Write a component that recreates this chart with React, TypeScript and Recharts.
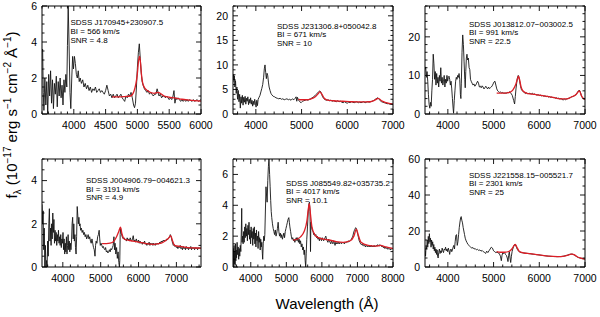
import React from "react";
import { LineChart, Line, XAxis, YAxis } from "recharts";

const FONT = '"Liberation Sans", Arial, Helvetica, sans-serif';
const BLACK = "#151515";
const RED = "#dc1e26";

type Pt = [number, number];

// ---------- Panel 1: SDSS J170945+230907.5 ----------
const spec1: Pt[] = [
  [3500, 3.5], [3510, 3.6], [3520, 1.2], [3530, 0.2], [3545, 2.0], [3560, 0.5], [3575, 1.8], [3590, 0.0],
  [3605, 2.2], [3620, 1.0], [3635, 2.4], [3650, 0.6], [3665, 1.9], [3680, 0.3], [3695, 1.7], [3710, 1.1],
  [3725, 2.1], [3740, 0.4], [3755, 1.8], [3770, 1.0], [3785, 2.0], [3800, 0.9], [3815, 1.6], [3830, 0.5],
  [3845, 1.9], [3860, 1.2], [3875, 2.2], [3890, 1.5], [3900, 3.8], [3912, 6.0], [3925, 4.0], [3940, 1.2],
  [3953, 0.3], [3968, 2.0], [3982, 3.2], [3995, 2.5], [4010, 3.2], [4025, 2.8], [4040, 2.2], [4055, 2.0],
  [4070, 2.4], [4085, 1.8], [4100, 2.0], [4120, 1.7], [4140, 1.9], [4160, 1.5], [4180, 1.7], [4200, 1.4],
  [4220, 1.6], [4240, 1.3], [4260, 1.5], [4280, 1.2], [4300, 1.4], [4320, 1.3], [4340, 1.5], [4360, 1.2],
  [4380, 1.3], [4400, 1.4], [4420, 1.2], [4440, 1.3], [4460, 1.2], [4480, 1.1], [4500, 1.3], [4520, 1.6],
  [4540, 1.3], [4560, 1.0], [4580, 1.1], [4600, 0.9], [4620, 1.1], [4640, 0.9], [4660, 1.0], [4680, 1.1],
  [4700, 0.9], [4720, 1.0], [4740, 1.1], [4760, 0.9], [4780, 0.8], [4800, 0.7], [4820, 1.0], [4840, 0.9],
  [4860, 1.1], [4880, 1.0], [4900, 1.2], [4920, 0.9], [4940, 0.5], [4955, 0.35], [4970, 0.6], [4985, 1.5],
  [5000, 2.6], [5015, 3.4], [5030, 3.9], [5045, 3.1], [5060, 2.3], [5075, 1.8], [5090, 1.6], [5110, 1.4],
  [5130, 1.3], [5150, 1.2], [5170, 1.3], [5190, 1.1], [5210, 1.2], [5230, 1.1], [5250, 1.0], [5270, 1.1],
  [5290, 1.1], [5310, 1.4], [5325, 1.2], [5340, 1.0], [5360, 1.1], [5380, 0.9], [5400, 1.0], [5420, 1.0],
  [5440, 0.9], [5460, 1.0], [5480, 0.9], [5500, 0.8], [5520, 0.9], [5540, 0.8], [5560, 1.0], [5575, 1.3],
  [5590, 0.6], [5605, 0.9], [5620, 0.8], [5640, 0.9], [5660, 0.8], [5680, 0.7], [5700, 0.8], [5720, 0.7],
  [5740, 0.8], [5760, 0.7], [5780, 0.8], [5800, 0.7], [5820, 0.8], [5840, 0.75], [5860, 0.7], [5880, 0.8],
  [5900, 0.7], [5920, 0.75], [5940, 0.8], [5960, 0.7], [5980, 0.75], [6000, 0.8],
];
const model1: Pt[] = [
  [4602, 0.95], [4700, 0.95], [4800, 0.97], [4892, 1.0], [4945, 1.25], [4998, 2.2], [5020, 3.0],
  [5035, 3.2], [5050, 2.8], [5061, 2.3], [5093, 1.6], [5156, 1.3], [5261, 1.15], [5324, 1.2],
  [5420, 1.0], [5500, 0.93], [5578, 0.9], [5700, 0.82], [5789, 0.78], [5900, 0.74], [6000, 0.72],
];

// ---------- Panel 2: SDSS J231306.8+050042.8 ----------
const spec2: Pt[] = [
  [3500, 6.5], [3510, 8.0], [3520, 7.0], [3530, 7.8], [3540, 5.5], [3555, 6.8], [3570, 4.2], [3585, 5.5],
  [3600, 3.0], [3615, 4.8], [3630, 2.5], [3645, 4.0], [3660, 1.2], [3675, 3.5], [3690, 2.2], [3705, 3.8],
  [3720, 1.8], [3735, 3.4], [3750, 2.4], [3765, 3.6], [3780, 2.0], [3795, 3.2], [3810, 2.6], [3825, 3.5],
  [3840, 1.9], [3855, 3.0], [3870, 2.2], [3885, 3.3], [3900, 2.0], [3915, 2.8], [3930, 1.6], [3945, 2.6],
  [3960, 1.9], [3975, 3.0], [3990, 2.2], [4005, 1.4], [4020, 2.8], [4035, 1.7], [4050, 3.0], [4070, 3.4],
  [4090, 3.8], [4110, 4.5], [4130, 5.2], [4150, 6.0], [4170, 7.5], [4185, 9.2], [4200, 10.0], [4215, 8.5],
  [4230, 7.2], [4245, 8.3], [4260, 7.8], [4275, 6.5], [4290, 5.5], [4310, 4.8], [4330, 4.2], [4350, 3.9],
  [4380, 3.6], [4410, 3.5], [4440, 3.3], [4470, 3.2], [4500, 3.1], [4530, 3.2], [4560, 3.0], [4590, 3.1],
  [4620, 2.9], [4650, 3.0], [4680, 3.1], [4710, 2.9], [4740, 3.0], [4770, 2.8], [4800, 3.1], [4830, 2.9],
  [4860, 3.2], [4880, 3.5], [4895, 2.6], [4910, 3.4], [4930, 2.9], [4960, 2.5], [4990, 2.3], [5020, 2.6],
  [5050, 2.7], [5080, 2.8], [5110, 2.9], [5140, 2.8], [5170, 3.0], [5200, 3.1], [5230, 3.3], [5260, 3.5],
  [5290, 3.7], [5320, 4.0], [5350, 4.3], [5380, 4.6], [5400, 4.7], [5420, 4.5], [5440, 4.0], [5460, 3.5],
  [5490, 3.1], [5520, 2.9], [5550, 2.8], [5580, 2.9], [5610, 2.7], [5640, 2.8], [5670, 2.6], [5700, 2.7],
  [5730, 2.6], [5760, 2.5], [5790, 2.7], [5820, 2.5], [5850, 2.6], [5880, 2.4], [5910, 2.3], [5940, 2.5],
  [5970, 2.3], [6000, 2.2], [6030, 2.4], [6060, 2.3], [6090, 2.5], [6120, 2.4], [6150, 2.3], [6180, 2.4],
  [6210, 2.5], [6240, 2.3], [6270, 2.4], [6300, 2.3], [6330, 2.4], [6360, 2.5], [6390, 2.3], [6420, 2.4],
  [6450, 2.5], [6480, 2.4], [6510, 2.5], [6540, 2.6], [6570, 2.7], [6600, 2.9], [6630, 3.1], [6660, 3.3],
  [6690, 3.1], [6720, 2.7], [6750, 2.5], [6780, 2.4], [6810, 2.3], [6840, 2.2], [6870, 2.1], [6900, 2.1],
  [6930, 2.0], [6960, 2.0], [7000, 1.9],
];
const model2: Pt[] = [
  [4930, 3.0], [5000, 2.9], [5100, 2.9], [5200, 3.05], [5300, 3.5], [5360, 4.1], [5400, 4.5], [5440, 4.1],
  [5490, 3.3], [5550, 2.9], [5700, 2.7], [5900, 2.6], [6100, 2.5], [6300, 2.45], [6500, 2.5], [6600, 2.8],
  [6680, 3.2], [6750, 2.7], [6850, 2.3], [7000, 2.0],
];

// ---------- Panel 3: SDSS J013812.07-003002.5 ----------
const spec3: Pt[] = [
  [3500, 11.5], [3515, 12.2], [3530, 9.5], [3545, 11.0], [3560, 8.5], [3575, 5.0], [3590, 2.5], [3605, 1.5],
  [3620, 3.0], [3635, 2.0], [3650, 6.0], [3665, 9.0], [3680, 15.5], [3695, 13.0], [3710, 9.0], [3725, 11.0],
  [3740, 7.5], [3755, 10.5], [3770, 8.0], [3785, 9.5], [3800, 7.0], [3815, 10.0], [3830, 8.5], [3845, 12.0],
  [3860, 8.0], [3875, 9.5], [3890, 7.5], [3905, 8.5], [3920, 10.0], [3935, 7.0], [3950, 9.0], [3965, 8.0],
  [3980, 10.0], [3995, 8.5], [4010, 9.5], [4025, 9.8], [4040, 9.0], [4055, 7.5], [4070, 8.5], [4085, 6.5],
  [4100, 4.0], [4115, 1.5], [4125, 0.2], [4140, 3.5], [4155, 6.0], [4170, 8.5], [4185, 9.5], [4200, 9.0],
  [4215, 10.0], [4230, 9.5], [4245, 10.5], [4260, 9.0], [4275, 5.0], [4285, 4.0], [4295, 8.0], [4310, 16.0],
  [4325, 20.5], [4340, 18.0], [4355, 13.5], [4370, 9.0], [4380, 6.8], [4392, 11.0], [4405, 14.5], [4418, 15.5],
  [4432, 14.0], [4448, 14.5], [4465, 12.0], [4480, 11.5], [4495, 9.0], [4510, 8.5], [4530, 8.0], [4550, 7.5],
  [4570, 7.8], [4590, 7.2], [4610, 7.5], [4630, 8.0], [4650, 8.5], [4670, 8.0], [4690, 7.0], [4710, 7.2],
  [4730, 6.8], [4750, 7.3], [4770, 7.0], [4790, 6.5], [4810, 6.8], [4830, 7.2], [4850, 6.8], [4870, 6.5],
  [4890, 7.0], [4910, 6.6], [4930, 6.8], [4950, 7.0], [4970, 7.3], [4990, 7.8], [5010, 8.3], [5030, 8.5],
  [5050, 7.5], [5070, 6.5], [5090, 6.0], [5110, 5.8], [5130, 5.6], [5150, 5.7], [5170, 5.5], [5190, 5.6],
  [5210, 5.4], [5230, 5.5], [5250, 5.3], [5270, 5.5], [5290, 5.4], [5310, 5.6], [5330, 5.5], [5350, 5.8],
  [5370, 5.5], [5390, 5.2], [5410, 4.8], [5440, 3.5], [5460, 2.6], [5475, 4.5], [5490, 6.5], [5505, 8.0],
  [5520, 9.3], [5540, 10.0], [5555, 9.5], [5570, 8.5], [5590, 7.2], [5610, 6.3], [5630, 6.0], [5650, 5.8],
  [5675, 5.5], [5700, 5.3], [5725, 5.5], [5750, 5.2], [5775, 5.4], [5800, 5.3], [5825, 5.2], [5850, 5.4],
  [5875, 5.1], [5900, 5.2], [5925, 5.0], [5950, 4.9], [5975, 5.0], [6000, 4.8], [6025, 4.9], [6050, 4.7],
  [6075, 4.8], [6100, 4.6], [6125, 4.7], [6150, 4.5], [6175, 4.6], [6200, 4.4], [6225, 4.5], [6250, 4.3],
  [6275, 4.4], [6300, 4.2], [6325, 4.3], [6350, 4.1], [6375, 4.2], [6400, 4.0], [6425, 4.1], [6450, 3.9],
  [6475, 4.0], [6500, 3.8], [6525, 3.6], [6550, 3.9], [6575, 3.7], [6600, 3.9], [6625, 4.0], [6650, 4.1],
  [6675, 4.2], [6700, 4.4], [6725, 4.5], [6750, 4.6], [6775, 4.8], [6800, 5.0], [6825, 5.4], [6850, 5.9],
  [6875, 6.2], [6900, 5.6], [6925, 4.6], [6950, 4.1], [6975, 3.9], [7000, 3.8],
];
const model3: Pt[] = [
  [5068, 5.4], [5150, 5.4], [5250, 5.4], [5350, 5.6], [5420, 6.2], [5480, 7.5], [5520, 9.0], [5545, 9.8],
  [5570, 8.9], [5600, 7.1], [5650, 5.9], [5750, 5.3], [5900, 5.1], [6100, 4.7], [6300, 4.3], [6500, 3.9],
  [6600, 3.9], [6700, 4.4], [6800, 5.0], [6880, 6.0], [6920, 4.8], [6960, 4.1], [7000, 3.8],
];

// ---------- Panel 4: SDSS J004906.79-004621.3 ----------
const spec4: Pt[] = [
  [3450, 2.9], [3465, 2.0], [3480, 2.6], [3495, 0.8], [3510, 1.8], [3525, 0.0], [3540, 1.0], [3555, 0.0],
  [3570, 0.3], [3585, 0.0], [3600, 1.2], [3615, 0.5], [3630, 2.0], [3645, 2.7], [3660, 1.2], [3675, 1.8],
  [3690, 1.0], [3705, 2.0], [3720, 1.3], [3735, 2.5], [3750, 1.6], [3765, 2.2], [3780, 1.1], [3795, 1.7],
  [3810, 1.2], [3825, 1.6], [3840, 1.0], [3855, 1.5], [3870, 1.2], [3885, 1.7], [3900, 1.1], [3915, 1.4],
  [3930, 1.0], [3945, 1.5], [3960, 0.9], [3975, 1.3], [3990, 1.1], [4005, 1.6], [4020, 0.8], [4035, 1.3],
  [4050, 0.6], [4065, 1.1], [4080, 0.7], [4095, 1.4], [4110, 0.6], [4125, 1.0], [4140, 1.5], [4155, 0.8],
  [4170, 1.2], [4185, 0.7], [4200, 1.1], [4215, 0.8], [4230, 1.2], [4245, 2.0], [4260, 2.3], [4275, 1.3],
  [4290, 2.0], [4305, 1.2], [4320, 1.5], [4335, 0.9], [4350, 0.6], [4365, 1.4], [4380, 2.8], [4395, 2.4],
  [4410, 2.0], [4425, 2.3], [4440, 1.9], [4455, 2.0], [4470, 1.7], [4490, 1.8], [4510, 1.6], [4530, 1.7],
  [4550, 1.5], [4570, 1.6], [4590, 1.4], [4610, 1.5], [4630, 1.3], [4650, 1.4], [4670, 1.5], [4690, 1.3],
  [4710, 1.4], [4730, 1.2], [4750, 1.1], [4770, 1.3], [4790, 1.1], [4810, 0.9], [4830, 0.8], [4850, 0.5],
  [4865, 1.0], [4880, 1.2], [4900, 1.1], [4920, 1.4], [4940, 1.5], [4960, 1.7], [4975, 1.3], [4990, 1.0],
  [5010, 1.1], [5030, 1.0], [5050, 0.9], [5070, 0.95], [5090, 0.85], [5110, 0.8], [5130, 0.9], [5150, 0.7],
  [5170, 0.75], [5190, 0.65], [5210, 0.7], [5230, 0.8], [5250, 0.7], [5270, 0.85], [5290, 0.8], [5310, 0.9],
  [5330, 1.0], [5350, 1.4], [5365, 0.8], [5380, 1.1], [5400, 0.6], [5420, 0.9], [5440, 0.4], [5460, 0.7],
  [5480, 0.2], [5495, 0.0], [5505, 0.3], [5515, 1.5], [5525, 1.8], [5540, 1.6], [5560, 1.45], [5580, 1.35],
  [5600, 1.3], [5620, 1.35], [5640, 1.25], [5660, 1.3], [5680, 1.2], [5700, 1.35], [5720, 1.25], [5740, 1.3],
  [5760, 1.2], [5780, 1.35], [5800, 1.25], [5820, 1.2], [5840, 1.3], [5860, 1.45], [5880, 1.2], [5900, 1.25],
  [5920, 1.15], [5940, 1.3], [5960, 1.2], [5980, 1.15], [6000, 1.25], [6020, 1.1], [6040, 1.2], [6060, 1.1],
  [6080, 1.15], [6100, 1.05], [6120, 1.15], [6140, 1.1], [6160, 1.2], [6180, 1.05], [6200, 1.1], [6220, 1.0],
  [6240, 1.1], [6260, 1.05], [6280, 1.15], [6300, 1.0], [6320, 1.1], [6340, 1.05], [6360, 1.1], [6380, 1.0],
  [6400, 1.1], [6420, 1.05], [6440, 1.0], [6460, 1.1], [6480, 1.05], [6500, 1.1], [6520, 1.05], [6540, 1.1],
  [6560, 1.15], [6580, 1.1], [6600, 1.2], [6620, 1.15], [6640, 1.2], [6660, 1.25], [6680, 1.2], [6700, 1.25],
  [6720, 1.2], [6740, 1.3], [6760, 1.25], [6780, 1.3], [6800, 1.35], [6820, 1.4], [6840, 1.5], [6860, 1.4],
  [6880, 1.25], [6900, 1.1], [6920, 1.0], [6940, 1.05], [6960, 0.95], [6980, 1.0], [7000, 0.9], [7020, 0.95],
  [7040, 0.85], [7060, 0.95], [7080, 0.9], [7100, 1.0], [7120, 0.85], [7140, 0.9], [7160, 0.8], [7180, 0.95],
  [7200, 0.85], [7220, 0.9], [7240, 0.8], [7260, 0.95], [7280, 0.85], [7300, 0.9], [7320, 0.8], [7340, 0.9],
  [7360, 0.85], [7380, 0.95], [7400, 0.8], [7420, 0.9], [7440, 0.85], [7460, 0.9], [7480, 0.8], [7500, 0.9],
  [7520, 0.85], [7540, 0.9], [7560, 0.8], [7580, 0.9], [7600, 0.85], [7620, 0.9], [7640, 0.85],
];
const model4: Pt[] = [
  [5036, 1.08], [5150, 1.08], [5250, 1.1], [5350, 1.2], [5420, 1.4], [5480, 1.65], [5523, 1.85], [5560, 1.55],
  [5620, 1.3], [5700, 1.25], [5850, 1.2], [6000, 1.15], [6200, 1.08], [6400, 1.05], [6600, 1.1], [6700, 1.2],
  [6800, 1.35], [6850, 1.45], [6900, 1.2], [6950, 1.0], [7100, 0.95], [7300, 0.9], [7500, 0.88], [7650, 0.87],
];

// ---------- Panel 5: SDSS J085549.82+035735.2 ----------
const spec5: Pt[] = [
  [3500, 0.3], [3510, 1.2], [3520, 0.0], [3530, 1.4], [3540, 0.2], [3550, 1.0], [3560, 0.1], [3570, 1.5],
  [3580, 0.4], [3590, 1.1], [3600, 0.6], [3615, 1.6], [3630, 0.8], [3645, 1.3], [3660, 0.5], [3675, 1.2],
  [3690, 0.7], [3705, 1.4], [3720, 1.0], [3735, 2.4], [3745, 3.8], [3755, 1.6], [3770, 2.0], [3785, 1.5],
  [3800, 2.3], [3815, 1.6], [3830, 2.6], [3845, 1.9], [3860, 2.8], [3875, 2.0], [3890, 2.5], [3905, 1.7],
  [3920, 2.7], [3935, 2.1], [3950, 2.9], [3965, 1.8], [3980, 2.4], [3995, 1.5], [4010, 2.6], [4025, 1.9],
  [4040, 2.3], [4055, 1.4], [4070, 2.5], [4085, 1.8], [4100, 2.6], [4115, 1.5], [4130, 2.2], [4145, 1.3],
  [4160, 2.4], [4175, 1.7], [4190, 2.0], [4205, 1.2], [4220, 2.3], [4235, 1.6], [4250, 1.9], [4265, 1.1],
  [4280, 1.8], [4295, 1.3], [4310, 1.6], [4325, 0.9], [4335, 0.5], [4350, 1.5], [4365, 2.0], [4380, 1.7],
  [4395, 2.1], [4410, 3.5], [4428, 5.2], [4445, 4.6], [4460, 4.2], [4478, 5.6], [4495, 6.5], [4512, 7.0],
  [4530, 6.0], [4545, 5.2], [4560, 4.3], [4575, 3.6], [4590, 3.2], [4610, 2.8], [4630, 2.5], [4650, 2.3],
  [4670, 2.1], [4690, 2.4], [4710, 2.0], [4730, 2.2], [4750, 2.5], [4770, 2.9], [4790, 2.3], [4810, 2.0],
  [4830, 2.2], [4850, 1.9], [4870, 2.1], [4890, 1.8], [4910, 2.0], [4930, 2.2], [4950, 1.9], [4970, 2.3],
  [4990, 2.5], [5010, 2.7], [5030, 2.9], [5050, 3.1], [5070, 3.2], [5085, 2.9], [5100, 2.6], [5120, 2.3],
  [5140, 2.0], [5160, 1.8], [5180, 1.9], [5200, 1.7], [5220, 1.8], [5240, 1.6], [5260, 1.8], [5280, 1.9],
  [5300, 1.7], [5320, 1.9], [5340, 1.6], [5360, 1.8], [5380, 1.5], [5400, 1.7], [5420, 1.3], [5440, 1.5],
  [5460, 1.1], [5480, 1.3], [5500, 0.8], [5515, 1.1], [5530, 0.4], [5545, 0.0], [5560, 0.9], [5575, 1.8],
  [5595, 2.6], [5615, 3.5], [5635, 4.1], [5650, 4.2], [5665, 3.6], [5680, 1.0], [5690, 2.9], [5710, 2.6],
  [5730, 2.4], [5750, 2.3], [5770, 2.1], [5790, 2.2], [5810, 2.0], [5830, 2.1], [5850, 1.9], [5870, 2.0],
  [5890, 1.8], [5910, 1.9], [5930, 1.7], [5950, 1.9], [5970, 1.8], [5990, 1.7], [6010, 1.9], [6030, 1.8],
  [6050, 1.7], [6070, 1.8], [6090, 1.9], [6110, 2.0], [6130, 1.8], [6150, 1.7], [6170, 1.6], [6190, 1.8],
  [6210, 1.7], [6230, 1.6], [6250, 1.5], [6270, 1.7], [6290, 1.6], [6310, 1.5], [6330, 1.7], [6350, 1.6],
  [6370, 1.4], [6390, 1.6], [6410, 1.5], [6430, 1.6], [6450, 1.5], [6470, 1.6], [6490, 1.5], [6510, 1.6],
  [6530, 1.55], [6550, 1.5], [6570, 1.6], [6590, 1.55], [6610, 1.6], [6630, 1.5], [6650, 1.6], [6670, 1.55],
  [6690, 1.6], [6710, 1.65], [6730, 1.6], [6750, 1.7], [6770, 1.65], [6790, 1.7], [6810, 1.75], [6830, 1.8],
  [6850, 1.9], [6870, 2.0], [6890, 2.2], [6910, 2.35], [6930, 2.45], [6950, 2.55], [6970, 2.5], [6990, 2.3],
  [7010, 2.1], [7030, 1.9], [7050, 1.7], [7070, 1.6], [7090, 1.5], [7110, 1.45], [7130, 1.5], [7150, 1.4],
  [7170, 1.45], [7190, 1.35], [7210, 1.4], [7230, 1.3], [7250, 1.4], [7270, 1.35], [7290, 1.3], [7310, 1.4],
  [7330, 1.3], [7350, 1.35], [7370, 1.3], [7390, 1.4], [7410, 1.3], [7430, 1.35], [7450, 1.3], [7470, 1.4],
  [7490, 1.3], [7510, 1.35], [7530, 1.4], [7550, 1.35], [7570, 1.45], [7590, 1.4], [7610, 1.35], [7630, 1.45],
  [7650, 1.4], [7670, 1.35], [7690, 1.3], [7710, 1.35], [7730, 1.25], [7750, 1.3], [7770, 1.2], [7790, 1.3],
  [7810, 1.2], [7830, 1.25], [7850, 1.15], [7870, 1.2], [7890, 1.15], [7910, 1.2], [7930, 1.1], [7950, 1.2],
  [7970, 1.15], [7990, 1.2],
];
const model5: Pt[] = [
  [5197, 1.75], [5300, 1.8], [5400, 1.95], [5500, 2.3], [5580, 3.0], [5620, 3.8], [5647, 4.1], [5680, 3.4],
  [5720, 2.6], [5800, 2.1], [5900, 1.9], [6050, 1.8], [6200, 1.75], [6400, 1.65], [6600, 1.6], [6800, 1.7],
  [6900, 2.0], [6970, 2.45], [7020, 2.1], [7100, 1.6], [7300, 1.4], [7500, 1.35], [7650, 1.4], [7800, 1.3],
  [8000, 1.2],
];

// ---------- Panel 6: SDSS J221558.15-005521.7 ----------
const spec6: Pt[] = [
  [3500, 9], [3512, 6], [3524, 12], [3536, 10], [3548, 15], [3560, 11], [3572, 17], [3584, 13], [3596, 18.5],
  [3608, 14], [3620, 16], [3632, 11], [3644, 15], [3656, 12], [3668, 14], [3680, 10], [3692, 12.5], [3704, 9],
  [3716, 11], [3728, 8], [3740, 10], [3752, 7], [3764, 9.5], [3776, 6], [3788, 5], [3800, 8], [3815, 10],
  [3830, 7.5], [3845, 9], [3860, 8], [3875, 10.5], [3890, 9], [3905, 8], [3920, 10], [3935, 9.5], [3950, 11],
  [3965, 9], [3980, 10], [3995, 8.5], [4010, 10.5], [4025, 9], [4040, 7], [4055, 9.5], [4070, 10], [4085, 8.5],
  [4100, 9.5], [4115, 11], [4130, 12], [4145, 10], [4160, 14], [4175, 17.5], [4190, 18], [4205, 12], [4220, 14],
  [4235, 18], [4250, 22], [4265, 25], [4280, 27.5], [4292, 28], [4305, 26], [4320, 24.5], [4335, 22], [4350, 20],
  [4365, 18], [4380, 16], [4400, 14.5], [4420, 13.5], [4440, 12.5], [4460, 12], [4480, 11.5], [4500, 11],
  [4525, 10.5], [4550, 10.8], [4575, 10], [4600, 10.2], [4625, 9.5], [4650, 9.8], [4675, 9.2], [4700, 9.5],
  [4725, 8.8], [4750, 9.2], [4775, 8.5], [4800, 8.2], [4825, 7.5], [4850, 8.8], [4875, 8.0], [4900, 9.0],
  [4925, 10.0], [4950, 11.0], [4975, 10.5], [5000, 9.0], [5025, 8.5], [5050, 8.0], [5075, 8.3], [5100, 7.8],
  [5125, 7.5], [5150, 6.0], [5170, 3.5], [5185, 6.5], [5200, 7.8], [5220, 7.5], [5240, 8.0], [5260, 7.0],
  [5280, 6.5], [5300, 5.0], [5315, 3.0], [5330, 6.5], [5345, 8.5], [5360, 5.0], [5375, 2.5], [5390, 6.0],
  [5405, 8.5], [5420, 10.0], [5440, 11.5], [5460, 12.5], [5480, 12.3], [5500, 11.0], [5520, 9.8], [5540, 9.0],
  [5560, 8.5], [5580, 8.3], [5600, 8.0], [5630, 7.9], [5660, 7.8], [5690, 7.7], [5720, 7.6], [5750, 7.5],
  [5780, 7.4], [5810, 7.3], [5840, 7.2], [5870, 7.1], [5900, 7.0], [5930, 6.9], [5960, 6.8], [5990, 6.7],
  [6020, 6.6], [6050, 6.5], [6080, 6.4], [6110, 6.3], [6140, 6.2], [6170, 6.1], [6200, 6.0], [6230, 5.95],
  [6260, 5.9], [6290, 5.85], [6320, 5.8], [6350, 5.8], [6380, 5.75], [6410, 5.75], [6440, 5.8], [6470, 5.8],
  [6500, 5.9], [6530, 6.0], [6560, 6.2], [6590, 6.4], [6620, 6.6], [6650, 6.9], [6680, 7.1], [6710, 7.2],
  [6740, 7.0], [6770, 6.6], [6800, 6.1], [6830, 5.6], [6860, 5.2], [6890, 5.0], [6920, 4.8], [6950, 4.6],
  [6980, 4.5], [7000, 4.4],
];
const model6: Pt[] = [
  [5068, 8.5], [5150, 8.2], [5250, 8.2], [5330, 8.6], [5400, 10.0], [5450, 12.0], [5475, 12.6], [5510, 11.0],
  [5560, 8.8], [5650, 7.9], [5800, 7.4], [6000, 6.7], [6200, 6.0], [6400, 5.75], [6550, 6.1], [6650, 6.8],
  [6720, 7.2], [6780, 6.6], [6850, 5.4], [6950, 4.7], [7000, 4.4],
];

// ---------- labels, ranges, ticks ----------
const objectNames = [
  "SDSS J170945+230907.5",
  "SDSS J231306.8+050042.8",
  "SDSS J013812.07\u2212003002.5",
  "SDSS J004906.79\u2212004621.3",
  "SDSS J085549.82+035735.2",
  "SDSS J221558.15\u2212005521.7",
];
const biValues = ["566", "671", "991", "3191", "4017", "2301"];
const snrValues = ["4.8", "10", "22.5", "4.9", "10.1", "25"];

const xDomains: [number, number][] = [
  [3500, 6000], [3500, 7000], [3500, 7000], [3450, 7650], [3500, 8000], [3500, 7000],
];
const yDomains: [number, number][] = [[0, 6], [0, 22], [0, 28], [0, 5], [0, 7], [0, 60]];
const xMajorTicks: number[][] = [
  [4000, 4500, 5000, 5500, 6000],
  [4000, 5000, 6000, 7000],
  [4000, 5000, 6000, 7000],
  [4000, 5000, 6000, 7000],
  [4000, 5000, 6000, 7000, 8000],
  [4000, 5000, 6000, 7000],
];
const xMinorSteps = [100, 200, 200, 200, 200, 200];
const yMajorTicks: number[][] = [[0, 2, 4, 6], [0, 5, 10, 15, 20], [0, 10, 20], [0, 2, 4], [0, 2, 4, 6], [0, 20, 40, 60]];
const yMinorSteps = [0.5, 1, 2, 0.5, 0.5, 5];

const specs = [spec1, spec2, spec3, spec4, spec5, spec6];
const models = [model1, model2, model3, model4, model5, model6];

// ---------- layout (styling) ----------
const plots = [
  { left: 42, top: 6, w: 159, h: 108 },
  { left: 233, top: 6, w: 160, h: 108 },
  { left: 425, top: 6, w: 160, h: 108 },
  { left: 42, top: 159, w: 159, h: 108 },
  { left: 233, top: 159, w: 160, h: 108 },
  { left: 425, top: 159, w: 160, h: 108 },
];
const notePos = [
  { x: 70.5, y: 22.3 },
  { x: 277, y: 25.6 },
  { x: 469, y: 23.6 },
  { x: 86, y: 180.0 },
  { x: 286, y: 182.6 },
  { x: 469, y: 174.6 },
];
const NOTE_FS = 8;
const NOTE_DY = 8.6;

const MAJ = 5;
const MIN = 2.5;
const TICK_FS = 10.5;

function buildTicks(domain: [number, number], majors: number[], step: number): number[] {
  const out: number[] = [];
  const start = Math.ceil(domain[0] / step - 1e-9) * step;
  for (let v = start; v <= domain[1] + 1e-9; v += step) out.push(Math.round(v * 1000) / 1000);
  majors.forEach((m) => {
    if (!out.some((o) => Math.abs(o - m) < 1e-6)) out.push(m);
  });
  return out.sort((a, b) => a - b);
}
const isMajor = (v: number, majors: number[]) => majors.some((m) => Math.abs(m - v) < 1e-6);

const BottomTick = (props: any) => {
  const { x, y, payload, majors } = props;
  const v = payload.value;
  const major = isMajor(v, majors);
  return (
    <g>
      <line x1={x} y1={y} x2={x} y2={y - (major ? MAJ : MIN)} stroke="#000" strokeWidth={0.9} />
      {major ? (
        <text x={x} y={y + 14.5} textAnchor="middle" fontSize={TICK_FS} fontFamily={FONT} fill="#000">
          {v}
        </text>
      ) : null}
    </g>
  );
};
const TopTick = (props: any) => {
  const { x, y, payload, majors } = props;
  const major = isMajor(payload.value, majors);
  return <line x1={x} y1={y} x2={x} y2={y + (major ? MAJ : MIN)} stroke="#000" strokeWidth={0.9} />;
};
const LeftTick = (props: any) => {
  const { x, y, payload, majors } = props;
  const v = payload.value;
  const major = isMajor(v, majors);
  return (
    <g>
      <line x1={x} y1={y} x2={x + (major ? MAJ : MIN)} y2={y} stroke="#000" strokeWidth={0.9} />
      {major ? (
        <text x={x - 5} y={y + 3.8} textAnchor="end" fontSize={TICK_FS} fontFamily={FONT} fill="#000">
          {v}
        </text>
      ) : null}
    </g>
  );
};
const RightTick = (props: any) => {
  const { x, y, payload, majors } = props;
  const major = isMajor(payload.value, majors);
  return <line x1={x} y1={y} x2={x - (major ? MAJ : MIN)} y2={y} stroke="#000" strokeWidth={0.9} />;
};

const axisLineStyle = { stroke: "#000", strokeWidth: 1 };

// outer space around each plot area, and the size given to each axis
const ML = 32;
const MR = 14;
const MT = 8;
const MB = 22;
const LEFT_W = 30;
const RIGHT_W = 2;
const TOP_H = 2;
const BOTTOM_H = 20;

function Panel({ i }: { i: number }) {
  const p = plots[i];
  const xTicks = buildTicks(xDomains[i], xMajorTicks[i], xMinorSteps[i]);
  const yTicks = buildTicks(yDomains[i], yMajorTicks[i], yMinorSteps[i]);
  const black = specs[i].map(([w, f]) => ({ w, f }));
  const red = models[i].map(([w, f]) => ({ w, f }));
  return (
    <div style={{ position: "absolute", left: p.left - ML, top: p.top - MT }}>
      <LineChart
        width={p.w + ML + MR}
        height={p.h + MT + MB}
        margin={{ top: MT - TOP_H, right: MR - RIGHT_W, bottom: MB - BOTTOM_H, left: ML - LEFT_W }}
      >
        <XAxis
          xAxisId="b"
          orientation="bottom"
          type="number"
          dataKey="w"
          domain={xDomains[i]}
          allowDataOverflow
          ticks={xTicks}
          interval={0}
          height={BOTTOM_H}
          tickSize={0}
          tickMargin={0}
          tickLine={false}
          axisLine={axisLineStyle}
          tick={<BottomTick majors={xMajorTicks[i]} />}
        />
        <XAxis
          xAxisId="t"
          orientation="top"
          type="number"
          dataKey="w"
          domain={xDomains[i]}
          allowDataOverflow
          ticks={xTicks}
          interval={0}
          height={TOP_H}
          tickSize={0}
          tickMargin={0}
          tickLine={false}
          axisLine={axisLineStyle}
          tick={<TopTick majors={xMajorTicks[i]} />}
        />
        <YAxis
          yAxisId="l"
          orientation="left"
          type="number"
          domain={yDomains[i]}
          allowDataOverflow
          ticks={yTicks}
          interval={0}
          width={LEFT_W}
          tickSize={0}
          tickMargin={0}
          tickLine={false}
          axisLine={axisLineStyle}
          tick={<LeftTick majors={yMajorTicks[i]} />}
        />
        <YAxis
          yAxisId="r"
          orientation="right"
          type="number"
          domain={yDomains[i]}
          allowDataOverflow
          ticks={yTicks}
          interval={0}
          width={RIGHT_W}
          tickSize={0}
          tickMargin={0}
          tickLine={false}
          axisLine={axisLineStyle}
          tick={<RightTick majors={yMajorTicks[i]} />}
        />
        <Line
          xAxisId="b"
          yAxisId="l"
          data={black}
          dataKey="f"
          type="linear"
          stroke={BLACK}
          strokeWidth={0.9}
          dot={false}
          activeDot={false}
          isAnimationActive={false}
        />
        <Line
          xAxisId="b"
          yAxisId="l"
          data={red}
          dataKey="f"
          type="monotone"
          stroke={RED}
          strokeWidth={1.3}
          dot={false}
          activeDot={false}
          isAnimationActive={false}
        />
      </LineChart>
    </div>
  );
}

export default function App() {
  const supFs = 10;
  return (
    <div style={{ position: "absolute", left: 0, top: 0, width: 600, height: 317, background: "#fff", overflow: "hidden" }}>
      {plots.map((_, i) => (
        <Panel key={i} i={i} />
      ))}
      <svg width={600} height={317} style={{ position: "absolute", left: 0, top: 0, pointerEvents: "none" }}>
        {notePos.map((n, i) => (
          <g key={i} fontFamily={FONT} fontSize={NOTE_FS} fill="#000">
            <text x={n.x} y={n.y + 3}>{objectNames[i]}</text>
            <text x={n.x} y={n.y + 3 + NOTE_DY}>{`BI = ${biValues[i]} km/s`}</text>
            <text x={n.x} y={n.y + 3 + 2 * NOTE_DY}>{`SNR = ${snrValues[i]}`}</text>
          </g>
        ))}
        <text
          x={17}
          y={115}
          transform="rotate(-90 17 115)"
          textAnchor="middle"
          fontFamily={FONT}
          fontSize={15}
          fill="#000"
        >
          f
          <tspan dy={4} fontSize={supFs}>λ</tspan>
          <tspan dy={-4}>{" (10"}</tspan>
          <tspan dy={-6} fontSize={supFs}>{"\u221217"}</tspan>
          <tspan dy={6}>{" erg s"}</tspan>
          <tspan dy={-6} fontSize={supFs}>{"\u22121"}</tspan>
          <tspan dy={6}>{" cm"}</tspan>
          <tspan dy={-6} fontSize={supFs}>{"\u22122"}</tspan>
          <tspan dy={6}>{" Å"}</tspan>
          <tspan dy={-6} fontSize={supFs}>{"\u22121"}</tspan>
          <tspan dy={6}>{")"}</tspan>
        </text>
        <text x={327} y={309} textAnchor="middle" fontFamily={FONT} fontSize={15} fill="#000">
          Wavelength (Å)
        </text>
      </svg>
    </div>
  );
}
